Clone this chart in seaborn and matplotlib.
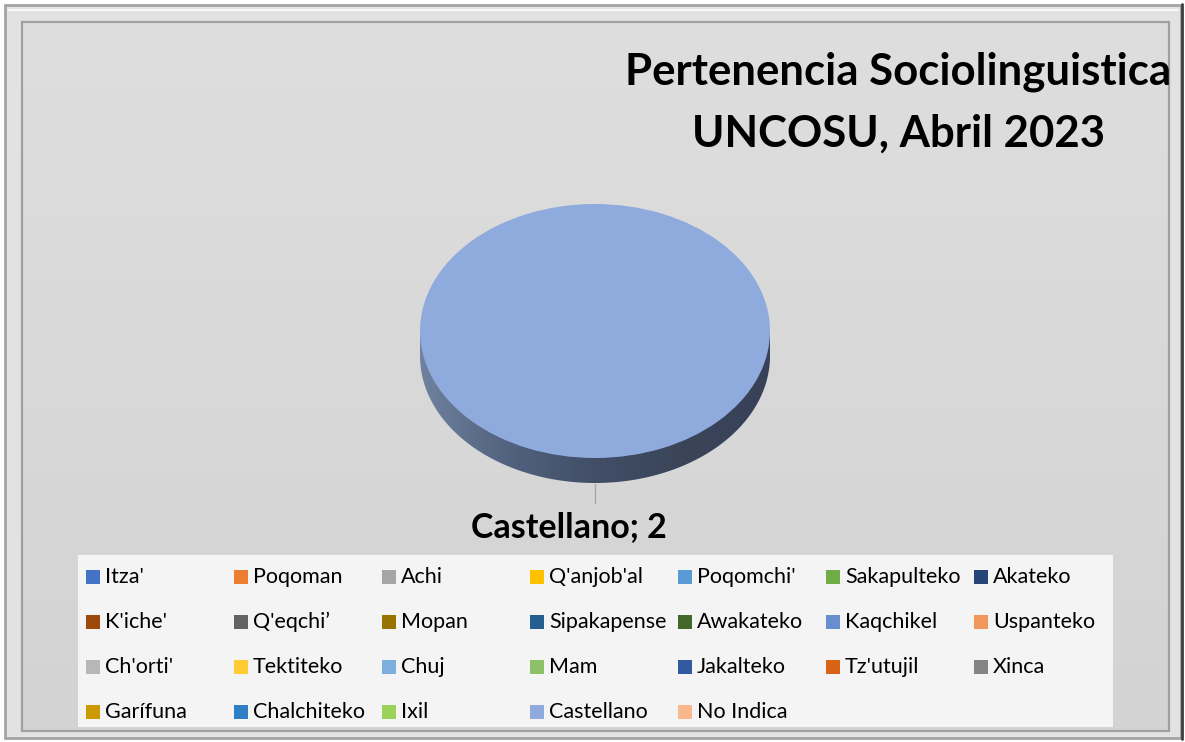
import numpy as np
import matplotlib
matplotlib.use("Agg")
import matplotlib.pyplot as plt
import seaborn as sns
from matplotlib.patches import Rectangle, Polygon
from matplotlib.colors import LinearSegmentedColormap

sns.set_theme(style="white")
plt.rcParams['font.family'] = ['Lato', 'DejaVu Sans']
plt.rcParams['text.color'] = 'black'

# datos
idiomas = ["Itza'", "Poqoman", "Achi", "Q'anjob'al", "Poqomchi'", "Sakapulteko", "Akateko",
           "K'iche'", "Q'eqchi’", "Mopan", "Sipakapense", "Awakateko", "Kaqchikel", "Uspanteko",
           "Ch'orti'", "Tektiteko", "Chuj", "Mam", "Jakalteko", "Tz'utujil", "Xinca",
           "Garífuna", "Chalchiteko", "Ixil", "Castellano", "No Indica"]
cantidad = [0, 0, 0, 0, 0, 0, 0,
            0, 0, 0, 0, 0, 0, 0,
            0, 0, 0, 0, 0, 0, 0,
            0, 0, 0, 2, 0]
colores = ["#4472C4", "#ED7D31", "#A5A5A5", "#FFC000", "#5B9BD5", "#70AD47", "#264478",
           "#9E480E", "#636363", "#997300", "#255E91", "#43682B", "#698ED0", "#F1975A",
           "#B7B7B7", "#FFCD33", "#7CAFDD", "#8CC168", "#335AA1", "#D86316", "#848484",
           "#CC9A00", "#2E7EC8", "#9BD25A", "#8FAADC", "#F8B88C"]
titulo1 = "Pertenencia Sociolinguistica"
titulo2 = "UNCOSU, Abril 2023"

W, H = 1185, 742
fig = plt.figure(figsize=(W / 100, H / 100), dpi=100)
fig.patch.set_facecolor("white")


def px_rect(l, t, w, h):
    return [l / W, 1 - (t + h) / H, w / W, h / H]


# fondo y marco
bg = fig.add_axes([0, 0, 1, 1])
bg.set_xlim(0, W)
bg.set_ylim(H, 0)
bg.axis("off")
bg.add_patch(Rectangle((5, 5), 1176, 733, facecolor="#e2e2e2", edgecolor="#a3a3a3", lw=2))
bg.plot([8, 1178], [9.5, 9.5], color="white", lw=1.2)
grad = np.linspace(0, 1, 256)[:, None]
bg_cmap = LinearSegmentedColormap.from_list("bg", ["#dedede", "#d3d3d3"])
bg.imshow(grad, extent=(22, 1169, 731, 22), cmap=bg_cmap, aspect="auto", zorder=1)
bg.add_patch(Rectangle((22, 22), 1147, 709, facecolor="none", edgecolor="#a0a0a0", lw=1.6, zorder=2))
bg.plot([1181.5, 1181.5], [4, 739], color="#3c3c3c", lw=2, zorder=3)
bg.set_xlim(0, W)
bg.set_ylim(H, 0)

# pastel 3D
rx, ry = 175, 127
cx, cy = 595, 331
prof = 25 / ry
ax = fig.add_axes(px_rect(cx - 1.3 * rx, cy - 1.3 * ry, 2.6 * rx, 3.0 * ry))
ax.axis("off")

# lado del pastel
th = np.linspace(np.pi, 2 * np.pi, 200)
lado = np.vstack([np.c_[np.cos(th), np.sin(th) - prof], [[1, 0], [-1, 0]]])
clip = Polygon(lado, closed=True, facecolor="none", edgecolor="none", transform=ax.transData)
ax.add_patch(clip)
side_cmap = LinearSegmentedColormap.from_list("lado", ["#70829f", "#52627f", "#414e66", "#3a4559", "#37425a"])
img = ax.imshow(np.linspace(0, 1, 256)[None, :], extent=(-1, 1, -1 - prof, 0),
                cmap=side_cmap, aspect="auto", zorder=1)
img.set_clip_path(clip)

wedges, _ = ax.pie(cantidad, colors=colores, startangle=90, counterclock=False,
                   wedgeprops=dict(linewidth=0), radius=1)
for w in wedges:
    w.set_zorder(2)

ax.set_aspect("auto")
ax.set_xlim(-1.3, 1.3)
ax.set_ylim(-1.7, 1.3)

# etiqueta de datos
for w, nombre, val in zip(wedges, idiomas, cantidad):
    if val > 0:
        mid = np.deg2rad((w.theta1 + w.theta2) / 2)
        bx, by = np.cos(mid), np.sin(mid) - prof
        ax.plot([bx, bx], [by - 0.01, by - 0.16], color="#a6a6a6", lw=1, zorder=3)
        ax.annotate(f"{nombre}; {val}", xy=(bx, by), xytext=(-19, -39), textcoords="offset points",
                    ha="center", va="baseline", fontsize=24.5, fontweight="bold", color="black")

# titulo
fig.text(898 / W, 1 - 85 / H, titulo1, ha="center", va="baseline", fontsize=31.5, fontweight="bold",
         color="black")
fig.text(898 / W, 1 - 147 / H, titulo2, ha="center", va="baseline", fontsize=31.5, fontweight="bold",
         color="black")

# leyenda
lg = fig.add_axes(px_rect(78, 555, 1035, 172))
lg.set_facecolor("#f4f4f4")
for s in lg.spines.values():
    s.set_visible(False)
lg.set_xticks([])
lg.set_yticks([])
for i, (nombre, c) in enumerate(zip(idiomas, colores)):
    fila, col = divmod(i, 7)
    lg.scatter(14.5 + 148 * col, 22 + 45 * fila, marker="s", s=88, color=c, linewidths=0)
    lg.text(27 + 148 * col, 22 + 45 * fila, nombre, ha="left", va="center", fontsize=15.5, color="black")
lg.set_xlim(0, 1035)
lg.set_ylim(172, 0)

fig.savefig("out.png", dpi=100)
